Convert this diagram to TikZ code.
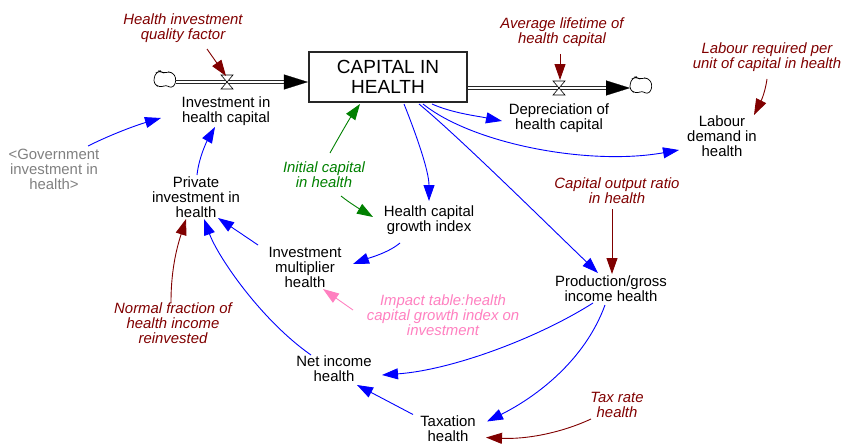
\documentclass[tikz,border=0pt]{standalone}
\usepackage{fontspec}
\setmainfont{Liberation Sans}
\usetikzlibrary{arrows.meta}
\definecolor{linkblue}{HTML}{0000FF}
\definecolor{dred}{HTML}{800000}
\definecolor{dgreen}{HTML}{008000}
\definecolor{lpink}{HTML}{FF80C0}
\definecolor{lgray}{HTML}{808080}
\tikzset{
  x=1pt,y=-1pt,
  lbl/.style={align=center,inner sep=0pt,yshift=-1pt,font=\fontsize{14.9}{15}\selectfont,text=black},
  par/.style={lbl,font=\fontsize{14.9}{15}\selectfont\itshape},
  link/.style={line width=0.9pt,-{Triangle[length=16pt,width=11pt]}},
  bl/.style={link,draw=linkblue,color=linkblue},
  rd/.style={link,draw=dred,color=dred},
  gr/.style={link,draw=dgreen,color=dgreen},
  pk/.style={link,draw=lpink,color=lpink},
  pipeline/.style={line width=1pt,double=white,double distance=2.6pt,draw=black!85},
  pipehead/.style={draw=black,line width=0.2pt,-{Triangle[length=24pt,width=15pt]}},
  valveshape/.pic={\draw[line width=0.6pt,fill=white] (-6,-7) -- (6,-7) -- (-6,7) -- (6,7) -- cycle;},
  cloudshape/.pic={\draw[line width=0.7pt,fill=white,rounded corners=2.5pt]
     (-11,-2) -- (-9,-7) -- (-5,-9) -- (-2,-7) -- (4,-8) -- (8,-7) -- (11,-2) -- (10,5) -- (6,8) -- (1,5) -- (-3,7) -- (-8,6) -- (-11,3) -- cycle;},
}
\begin{document}
\begin{tikzpicture}
\useasboundingbox (0,0) rectangle (845,444);
% stock
\node[draw=black!85,line width=2.2pt,minimum width=158pt,minimum height=50pt,inner sep=0pt,align=center,font=\fontsize{19}{20}\selectfont] (stock) at (388,77) {CAPITAL IN\\HEALTH};
% text nodes
\node[par,text=dred] (hiq) at (183,27) {Health investment\\quality factor};
\node[lbl] (inv) at (226,110) {Investment in\\health capital};
\node[par,text=dred] (avg) at (562,31) {Average lifetime of\\health capital};
\node[lbl] (dep) at (559,117) {Depreciation of\\health capital};
\node[par,text=dred] (lab) at (767,56) {Labour required per\\unit of capital in health};
\node[lbl] (ldem) at (722,135) {Labour\\demand in\\health};
\node[par,text=dred] (cor) at (617,190) {Capital output ratio\\in health};
\node[lbl] (prod) at (611,288) {Production/gross\\income health};
\node[par,text=dred] (trate) at (617,404) {Tax rate\\health};
\node[lbl] (tax) at (448,428) {Taxation\\health};
\node[lbl] (net) at (334,368) {Net income\\health};
\node[par,text=lpink] (imp) at (443,314) {Impact table:health\\capital growth index on\\investment};
\node[lbl] (mult) at (305,266) {Investment\\multiplier\\health};
\node[lbl] (grow) at (429,219) {Health capital\\growth index};
\node[par,text=dgreen] (init) at (324,174) {Initial capital\\in health};
\node[lbl] (priv) at (196,196) {Private\\investment in\\health};
\node[par,text=dred] (nf) at (173,322) {Normal fraction of\\health income\\reinvested};
\node[lbl,text=lgray] (gov) at (54,168) {<Government\\investment in\\health>};
% flow anchors
\coordinate (cl) at (165,80);
\coordinate (cr) at (641,86);
\coordinate (vl) at (227,82);
\coordinate (vr) at (559,88);
% pipes
\draw[pipeline] ([shift={(11,2)}]cl) -- ([shift={(-22,5)}]stock.west);
\draw[pipehead] ([shift={(-24,5)}]stock.west) -- ([yshift=-5pt]stock.west);
\draw[pipeline] ([yshift=-11pt]stock.east) -- ([shift={(-33,2)}]cr);
\draw[pipehead] ([shift={(-35,2)}]cr) -- ([shift={(-11,2)}]cr);
\pic at (cl) {cloudshape};
\pic at (cr) {cloudshape};
\pic at (vl) {valveshape};
\pic at (vr) {valveshape};
% links
\draw[rd] ([shift={(24,21)}]hiq.center) -- ([shift={(-1,-6)}]vl);
\draw[rd] ([shift={(-2,22)}]avg.center) -- ([shift={(1,-8)}]vr);
\draw[rd] ([shift={(0,22)}]lab.center) .. controls +(-2,14) and +(7,-14) .. ([shift={(32,-21)}]ldem.center);
\draw[bl] ([shift={(34,-23)}]gov.center) .. controls +(24,-12) and +(-24,7) .. ([shift={(-65,7)}]inv.center);
\draw[bl] ([shift={(1,-22)}]priv.center) .. controls +(2,-18) and +(-8,14) .. ([shift={(-11,16)}]inv.center);
\draw[bl] ([shift={(-47,-22)}]mult.center) -- ([shift={(22,21)}]priv.center);
\draw[bl] ([shift={(-23,-14)}]net.center) .. controls +(-50,-35) and +(14,38) .. ([shift={(8,22)}]priv.center);
\draw[rd] ([shift={(-2,-21)}]nf.center) .. controls +(0,-35) and +(-8,25) .. ([shift={(-10,22)}]priv.center);
\draw[gr] ([shift={(6,-22)}]init.center) .. controls +(10,-18) and +(-10,14) .. ([shift={(-28,27)}]stock.center);
\draw[gr] ([shift={(17,21)}]init.center) .. controls +(10,8) and +(-10,-6) .. ([shift={(-56,-3)}]grow.center);
\draw[bl] ([shift={(-29,23)}]grow.center) .. controls +(-12,10) and +(16,-6) .. ([shift={(48,-3)}]mult.center);
\draw[pk] ([shift={(-90,-5)}]imp.center) -- ([shift={(18,22)}]mult.center);
\draw[bl] ([shift={(16,27)}]stock.center) .. controls +(12,30) and +(0,-30) .. ([shift={(0,-19)}]grow.center);
\draw[bl] ([shift={(44,27)}]stock.center) .. controls +(20,9) and +(-25,-5) .. ([shift={(-57,3)}]dep.center);
\draw[bl] ([shift={(35,27)}]stock.center) .. controls +(50,40) and +(-90,16) .. ([shift={(-43,14)}]ldem.center);
\draw[bl] ([shift={(31,27)}]stock.center) .. controls +(40,33) and +(-50,-48) .. ([shift={(-13,-16)}]prod.center);
\draw[rd] ([shift={(-5,18)}]cor.center) -- ([shift={(1,-15)}]prod.center);
\draw[bl] ([shift={(-18,14)}]prod.center) .. controls +(-55,35) and +(70,-5) .. ([shift={(48,6)}]net.center);
\draw[bl] ([shift={(-6,16)}]prod.center) .. controls +(-20,55) and +(50,-25) .. ([shift={(39,-7.5)}]tax.center);
\draw[bl] ([shift={(-35,-14.5)}]tax.center) -- ([shift={(23,16)}]net.center);
\draw[rd] ([shift={(-26,14)}]trate.center) .. controls +(-30,14) and +(40,2) .. ([shift={(38,8.5)}]tax.center);
\end{tikzpicture}
\end{document}
